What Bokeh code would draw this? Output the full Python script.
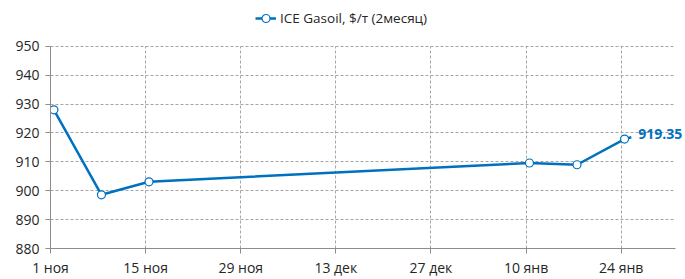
from bokeh.plotting import figure
from bokeh.models import (ColumnDataSource, FixedTicker, Range1d, Legend, LegendItem, LabelSet, Grid)
from bokeh.core.properties import value
from bokeh.embed import file_html
from bokeh.resources import INLINE

# Days since 1 Nov (Excel date axis, points centred in their day)
days = [0, 7, 14, 70, 77, 84, 85]
values = [928.0, 898.6, 903.1, 909.6, 909.0, 917.9, 918.5]
last_label = "919.35"
series_name = "ICE Gasoil, $/т (2месяц)"
tick_days = [0, 14, 28, 42, 56, 70, 84]
tick_labels = ["1 ноя", "15 ноя", "29 ноя", "13 дек", "27 дек", "10 янв", "24 янв"]
x_end = 92
y_ticks = [880, 890, 900, 910, 920, 930, 940, 950]

BLUE = "#0070C0"
FONT = "Open Sans"
GRID = "#A6A6A6"
TEXT = "#262626"

# The frame is larger than the axes so that the legend and end label are not clipped
axis_w, extra_right = 625, 10
axis_h, extra_top = 203, 46
x_view_end = x_end * (axis_w + extra_right) / axis_w
y0, y1 = y_ticks[0], y_ticks[-1]
y_view_end = y0 + (y1 - y0) * (axis_h + extra_top) / axis_h

xs = [d + 0.5 for d in days]
src_line = ColumnDataSource(dict(x=xs, y=values))
src_mark = ColumnDataSource(dict(x=xs[:-1], y=values[:-1]))
src_lab = ColumnDataSource(dict(x=xs[-1:], y=values[-1:], t=[last_label]))

p = figure(width=685, height=279, output_backend="svg", toolbar_location=None,
           x_range=Range1d(0, x_view_end), y_range=Range1d(y0, y_view_end),
           min_border_left=50, min_border_right=0, min_border_top=0, min_border_bottom=30)
p.outline_line_color = None

has_cross = "cross_bounds" in Grid.properties()
if has_cross:
    p.ygrid.cross_bounds = (0, x_end)
    p.xgrid.cross_bounds = (y0, y1)
else:
    p.ygrid.visible = False
    p.xgrid.visible = False
    p.segment(x0=[0] * len(y_ticks), x1=[x_end] * len(y_ticks), y0=y_ticks, y1=y_ticks,
              line_color=GRID, line_dash="3 2", line_width=1, level="underlay")
    p.segment(x0=tick_days, x1=tick_days, y0=[y0] * len(tick_days), y1=[y1] * len(tick_days),
              line_color=GRID, line_dash="3 2", line_width=1, level="underlay")

r_line = p.line("x", "y", source=src_line, line_color=BLUE, line_width=2.5)
r_mark = p.scatter("x", "y", source=src_mark, marker="circle", size=8,
                   line_color=BLUE, line_width=1.2, fill_color="white")

labels = LabelSet(x="x", y="y", text="t", source=src_lab, x_offset=7, y_offset=3,
                  text_font=value(FONT), text_font_size=value("14px"),
                  text_font_style=value("bold"),
                  text_color=value(BLUE), text_baseline=value("middle"),
                  text_align=value("left"))
p.add_layout(labels)

for ax in (p.xaxis[0], p.yaxis[0]):
    ax.axis_line_color = "#8C8C8C"
    ax.axis_line_width = 1
    ax.major_tick_line_color = "#8C8C8C"
    ax.major_tick_out = 5
    ax.major_tick_in = 0
    ax.minor_tick_line_color = None
    ax.major_label_text_font = FONT
    ax.major_label_text_font_size = "14px"
    ax.major_label_text_color = TEXT

p.xaxis.ticker = FixedTicker(ticks=tick_days)
p.xaxis.bounds = (0, x_end)
p.xaxis.major_label_overrides = {d: l for d, l in zip(tick_days, tick_labels)}
p.xaxis.major_label_standoff = 4
p.yaxis.ticker = FixedTicker(ticks=y_ticks)
p.yaxis.bounds = (y0, y1)
p.yaxis.major_label_standoff = 6

for g in (p.xgrid[0], p.ygrid[0]):
    g.grid_line_color = GRID
    g.grid_line_dash = "3 2"
    g.grid_line_width = 1
p.xgrid.ticker = FixedTicker(ticks=tick_days)
p.ygrid.ticker = FixedTicker(ticks=y_ticks)

legend = Legend(items=[LegendItem(label=series_name, renderers=[r_line, r_mark])],
                location=(205, 220), orientation="horizontal",
                padding=0, margin=0, spacing=0, label_standoff=4,
                glyph_width=21, glyph_height=20,
                label_text_font=FONT, label_text_font_size="13.5px",
                label_text_color=TEXT, border_line_color=None,
                background_fill_alpha=0)
p.add_layout(legend, "center")

open("out.html", "w").write(file_html(p, INLINE))
